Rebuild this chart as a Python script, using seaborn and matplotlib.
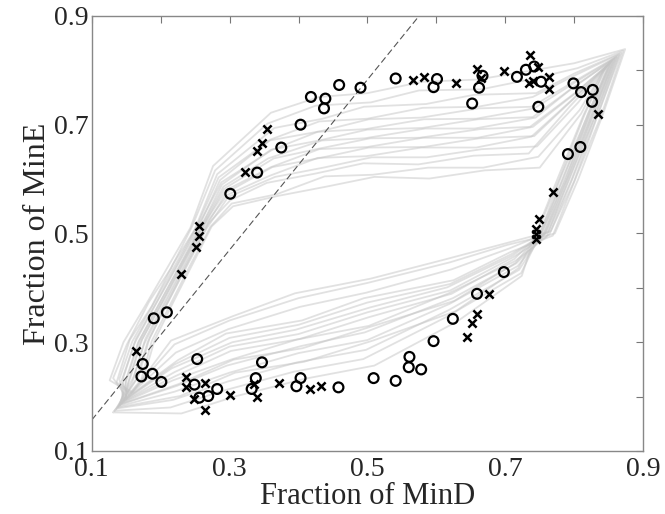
import numpy as np
import pandas as pd
import matplotlib
matplotlib.use("Agg")
import matplotlib.pyplot as plt
import seaborn as sns

# gray loop trajectories (one list per trace):
# up the left branch, along the top, down the right branch, back along the bottom
trace_x = [
    [0.157, 0.126, 0.146, 0.179, 0.211, 0.243, 0.276, 0.360, 0.430, 0.500, 0.580, 0.660, 0.740, 0.800, 0.874, 0.842, 0.806, 0.772, 0.703, 0.620, 0.500, 0.400, 0.300, 0.220, 0.157],
    [0.151, 0.131, 0.151, 0.183, 0.215, 0.246, 0.279, 0.355, 0.425, 0.505, 0.575, 0.665, 0.735, 0.805, 0.871, 0.839, 0.803, 0.769, 0.708, 0.625, 0.495, 0.405, 0.295, 0.225, 0.151],
    [0.159, 0.136, 0.155, 0.187, 0.218, 0.249, 0.282, 0.365, 0.435, 0.495, 0.585, 0.655, 0.745, 0.800, 0.868, 0.836, 0.800, 0.766, 0.701, 0.615, 0.505, 0.395, 0.305, 0.215, 0.159],
    [0.147, 0.140, 0.159, 0.190, 0.221, 0.252, 0.284, 0.360, 0.430, 0.500, 0.580, 0.660, 0.740, 0.795, 0.866, 0.834, 0.798, 0.764, 0.711, 0.620, 0.500, 0.400, 0.300, 0.220, 0.147],
    [0.154, 0.143, 0.162, 0.192, 0.223, 0.254, 0.286, 0.358, 0.432, 0.502, 0.578, 0.662, 0.738, 0.802, 0.864, 0.832, 0.796, 0.762, 0.705, 0.622, 0.498, 0.402, 0.298, 0.222, 0.154],
    [0.144, 0.146, 0.164, 0.195, 0.225, 0.255, 0.288, 0.362, 0.428, 0.498, 0.582, 0.658, 0.742, 0.798, 0.862, 0.830, 0.794, 0.760, 0.714, 0.618, 0.502, 0.398, 0.302, 0.218, 0.144],
    [0.150, 0.149, 0.167, 0.197, 0.227, 0.257, 0.289, 0.360, 0.430, 0.500, 0.580, 0.660, 0.740, 0.800, 0.861, 0.829, 0.793, 0.759, 0.709, 0.620, 0.500, 0.400, 0.300, 0.220, 0.150],
    [0.141, 0.151, 0.169, 0.199, 0.229, 0.259, 0.291, 0.356, 0.434, 0.496, 0.584, 0.656, 0.744, 0.796, 0.859, 0.827, 0.791, 0.757, 0.716, 0.624, 0.496, 0.404, 0.296, 0.224, 0.141],
    [0.148, 0.154, 0.171, 0.201, 0.231, 0.260, 0.292, 0.364, 0.426, 0.504, 0.576, 0.664, 0.736, 0.804, 0.858, 0.826, 0.790, 0.756, 0.710, 0.616, 0.504, 0.396, 0.304, 0.216, 0.148],
    [0.139, 0.156, 0.173, 0.203, 0.232, 0.262, 0.294, 0.360, 0.430, 0.500, 0.580, 0.660, 0.740, 0.800, 0.856, 0.824, 0.788, 0.754, 0.718, 0.620, 0.500, 0.400, 0.300, 0.220, 0.139],
    [0.145, 0.159, 0.176, 0.205, 0.234, 0.263, 0.295, 0.362, 0.432, 0.502, 0.582, 0.662, 0.742, 0.802, 0.855, 0.823, 0.787, 0.753, 0.713, 0.622, 0.502, 0.402, 0.302, 0.222, 0.145],
    [0.136, 0.161, 0.178, 0.207, 0.236, 0.265, 0.297, 0.358, 0.428, 0.498, 0.578, 0.658, 0.738, 0.798, 0.853, 0.821, 0.785, 0.751, 0.720, 0.618, 0.498, 0.398, 0.298, 0.218, 0.136],
    [0.142, 0.164, 0.181, 0.209, 0.238, 0.267, 0.298, 0.366, 0.436, 0.506, 0.586, 0.666, 0.746, 0.806, 0.852, 0.820, 0.784, 0.750, 0.715, 0.626, 0.506, 0.406, 0.306, 0.226, 0.142],
    [0.133, 0.168, 0.184, 0.212, 0.240, 0.269, 0.301, 0.354, 0.424, 0.494, 0.574, 0.654, 0.734, 0.794, 0.850, 0.818, 0.782, 0.748, 0.723, 0.614, 0.494, 0.394, 0.294, 0.214, 0.133],
    [0.138, 0.172, 0.187, 0.215, 0.243, 0.272, 0.303, 0.368, 0.438, 0.508, 0.588, 0.668, 0.748, 0.808, 0.847, 0.815, 0.779, 0.745, 0.719, 0.628, 0.508, 0.408, 0.308, 0.228, 0.138],
    [0.131, 0.175, 0.191, 0.218, 0.246, 0.274, 0.305, 0.370, 0.440, 0.510, 0.590, 0.670, 0.750, 0.810, 0.845, 0.813, 0.777, 0.743, 0.724, 0.630, 0.510, 0.410, 0.310, 0.230, 0.131],
]
trace_y = [
    [0.206, 0.230, 0.300, 0.370, 0.440, 0.510, 0.624, 0.722, 0.751, 0.758, 0.779, 0.783, 0.800, 0.813, 0.839, 0.720, 0.600, 0.500, 0.479, 0.447, 0.409, 0.381, 0.340, 0.296, 0.206],
    [0.198, 0.234, 0.296, 0.374, 0.436, 0.514, 0.616, 0.702, 0.735, 0.741, 0.763, 0.765, 0.783, 0.804, 0.836, 0.716, 0.604, 0.496, 0.466, 0.414, 0.381, 0.340, 0.316, 0.267, 0.198],
    [0.208, 0.226, 0.304, 0.366, 0.444, 0.506, 0.609, 0.694, 0.711, 0.733, 0.738, 0.755, 0.758, 0.794, 0.832, 0.724, 0.596, 0.504, 0.482, 0.453, 0.417, 0.390, 0.348, 0.303, 0.208],
    [0.192, 0.232, 0.302, 0.372, 0.442, 0.512, 0.603, 0.673, 0.706, 0.711, 0.731, 0.733, 0.751, 0.787, 0.830, 0.718, 0.602, 0.498, 0.456, 0.395, 0.355, 0.315, 0.292, 0.245, 0.192],
    [0.202, 0.228, 0.298, 0.368, 0.438, 0.508, 0.598, 0.671, 0.688, 0.710, 0.713, 0.730, 0.733, 0.781, 0.827, 0.722, 0.598, 0.502, 0.472, 0.434, 0.391, 0.365, 0.324, 0.281, 0.202],
    [0.188, 0.236, 0.306, 0.376, 0.446, 0.516, 0.594, 0.654, 0.687, 0.692, 0.710, 0.711, 0.730, 0.775, 0.825, 0.714, 0.606, 0.494, 0.449, 0.390, 0.330, 0.305, 0.268, 0.230, 0.188],
    [0.196, 0.229, 0.299, 0.369, 0.439, 0.509, 0.590, 0.654, 0.671, 0.691, 0.694, 0.710, 0.714, 0.770, 0.824, 0.721, 0.599, 0.501, 0.462, 0.407, 0.373, 0.332, 0.308, 0.259, 0.196],
    [0.185, 0.233, 0.303, 0.373, 0.443, 0.513, 0.586, 0.638, 0.671, 0.675, 0.693, 0.693, 0.713, 0.766, 0.822, 0.717, 0.603, 0.497, 0.445, 0.381, 0.318, 0.293, 0.257, 0.220, 0.185],
    [0.194, 0.231, 0.301, 0.371, 0.441, 0.511, 0.582, 0.638, 0.655, 0.675, 0.676, 0.692, 0.696, 0.761, 0.820, 0.719, 0.601, 0.499, 0.459, 0.401, 0.364, 0.323, 0.300, 0.252, 0.194],
    [0.182, 0.235, 0.305, 0.375, 0.445, 0.515, 0.579, 0.622, 0.655, 0.659, 0.676, 0.676, 0.696, 0.756, 0.818, 0.715, 0.605, 0.495, 0.440, 0.371, 0.304, 0.280, 0.244, 0.209, 0.182],
    [0.190, 0.227, 0.297, 0.367, 0.437, 0.507, 0.575, 0.622, 0.639, 0.658, 0.659, 0.675, 0.679, 0.751, 0.817, 0.723, 0.597, 0.503, 0.453, 0.389, 0.346, 0.306, 0.284, 0.238, 0.190],
    [0.178, 0.237, 0.307, 0.377, 0.447, 0.517, 0.571, 0.606, 0.639, 0.642, 0.658, 0.658, 0.678, 0.747, 0.815, 0.713, 0.607, 0.493, 0.433, 0.359, 0.286, 0.263, 0.228, 0.194, 0.178],
    [0.186, 0.230, 0.300, 0.370, 0.440, 0.510, 0.567, 0.604, 0.621, 0.640, 0.640, 0.655, 0.660, 0.741, 0.813, 0.720, 0.600, 0.500, 0.446, 0.376, 0.329, 0.289, 0.268, 0.223, 0.186],
    [0.174, 0.238, 0.308, 0.378, 0.448, 0.518, 0.561, 0.593, 0.610, 0.629, 0.627, 0.643, 0.647, 0.734, 0.810, 0.712, 0.608, 0.492, 0.427, 0.346, 0.269, 0.246, 0.212, 0.180, 0.174],
    [0.180, 0.232, 0.302, 0.372, 0.442, 0.512, 0.555, 0.572, 0.605, 0.608, 0.621, 0.621, 0.641, 0.727, 0.808, 0.718, 0.602, 0.498, 0.436, 0.357, 0.303, 0.264, 0.244, 0.201, 0.180],
    [0.171, 0.233, 0.303, 0.373, 0.443, 0.513, 0.550, 0.569, 0.586, 0.604, 0.601, 0.616, 0.621, 0.720, 0.805, 0.716, 0.604, 0.496, 0.422, 0.338, 0.257, 0.233, 0.201, 0.169, 0.171],
]

# open circle markers
circle_x = [0.459, 0.418, 0.439, 0.437, 0.403, 0.375, 0.340, 0.301, 0.490, 0.541, 0.601, 0.596, 0.667,
            0.662, 0.652, 0.717, 0.730, 0.742, 0.752, 0.748, 0.799, 0.810, 0.827, 0.826, 0.809, 0.791,
            0.209, 0.190, 0.174, 0.172, 0.188, 0.201, 0.253, 0.249, 0.256, 0.269, 0.282, 0.347, 0.338,
            0.332, 0.403, 0.397, 0.458, 0.509, 0.541, 0.561, 0.560, 0.578, 0.596, 0.624, 0.659, 0.698]
circle_y = [0.773, 0.751, 0.748, 0.730, 0.700, 0.658, 0.612, 0.573, 0.768, 0.785, 0.784, 0.769, 0.790,
            0.768, 0.739, 0.788, 0.801, 0.807, 0.779, 0.733, 0.776, 0.760, 0.764, 0.742, 0.659, 0.646,
            0.355, 0.344, 0.260, 0.237, 0.242, 0.227, 0.269, 0.222, 0.198, 0.201, 0.214, 0.263, 0.234,
            0.214, 0.234, 0.219, 0.217, 0.234, 0.229, 0.273, 0.254, 0.250, 0.302, 0.343, 0.389, 0.429]

# cross markers
cross_x = [0.354, 0.347, 0.340, 0.322, 0.566, 0.582, 0.629, 0.659, 0.665, 0.698, 0.736, 0.748, 0.734,
           0.741, 0.763, 0.763, 0.835, 0.769, 0.749, 0.744, 0.745, 0.745, 0.255, 0.255, 0.251, 0.230,
           0.164, 0.237, 0.237, 0.265, 0.249, 0.264, 0.300, 0.335, 0.340, 0.371, 0.417, 0.433, 0.677,
           0.659, 0.652, 0.645]
cross_y = [0.692, 0.666, 0.652, 0.613, 0.782, 0.788, 0.777, 0.802, 0.785, 0.799, 0.828, 0.807, 0.777,
           0.780, 0.787, 0.765, 0.720, 0.576, 0.527, 0.508, 0.499, 0.489, 0.514, 0.495, 0.475, 0.425,
           0.283, 0.236, 0.217, 0.225, 0.196, 0.175, 0.203, 0.223, 0.200, 0.225, 0.214, 0.220, 0.388,
           0.351, 0.336, 0.310]

# dashed reference line end points
ref_x = [0.100, 0.575]
ref_y = [0.157, 0.900]

ticks = [0.1, 0.2, 0.3, 0.4, 0.5, 0.6, 0.7, 0.8, 0.9]
tick_labels = ['0.1', '', '0.3', '', '0.5', '', '0.7', '', '0.9']

sns.set_style("white")
plt.rcParams['font.family'] = ['Liberation Serif', 'DejaVu Serif']

traces = pd.DataFrame({
    'x': np.concatenate(trace_x),
    'y': np.concatenate(trace_y),
    'trace': np.repeat(np.arange(len(trace_x)), [len(t) for t in trace_x]),
})

fig = plt.figure(figsize=(6.65, 5.14), dpi=100)
ax = fig.add_axes([0.138, 0.1226, 0.967 - 0.138, 0.969 - 0.1226])

sns.lineplot(data=traces, x='x', y='y', units='trace', estimator=None, sort=False,
             color='#c4c4c4', alpha=0.5, linewidth=1.3, ax=ax, legend=False)
sns.lineplot(x=ref_x, y=ref_y, color='#555555', linewidth=0.8,
             linestyle=(0, (6, 3)), ax=ax)
sns.scatterplot(x=circle_x, y=circle_y, marker='o', s=50, facecolors='none',
                edgecolor='black', linewidth=1.6, ax=ax, zorder=3)
sns.scatterplot(x=cross_x, y=cross_y, marker='x', s=35, color='black',
                linewidth=1.8, ax=ax, zorder=3)

ax.set_xlim(0.1, 0.9)
ax.set_ylim(0.1, 0.9)
ax.set_xticks(ticks)
ax.set_yticks(ticks)
ax.set_xticklabels(tick_labels)
ax.set_yticklabels(tick_labels)
ax.tick_params(direction='in', length=5, width=0.8, color='#777777',
               top=True, right=True, labelsize=20, pad=2)
ax.tick_params(axis='x', pad=4)
for s in ax.spines.values():
    s.set_color('#888888')
    s.set_linewidth(1.0)

ax.set_xlabel('Fraction of MinD', fontsize=22, labelpad=0)
ax.set_ylabel('Fraction of MinE', fontsize=23, labelpad=2)

fig.savefig('out.png', dpi=100)
